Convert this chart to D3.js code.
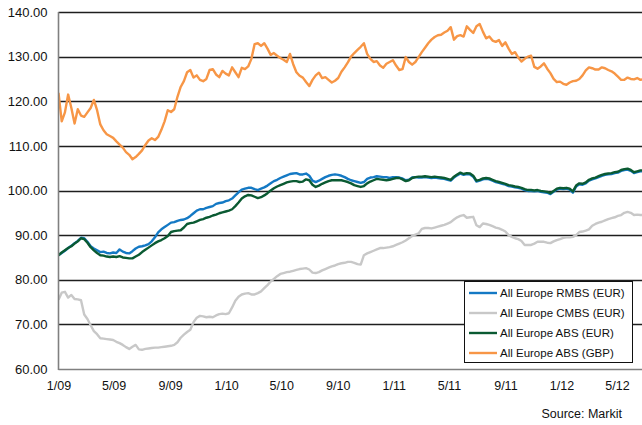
<!DOCTYPE html>
<html>
<head>
<meta charset="utf-8">
<script src="https://cdn.jsdelivr.net/npm/d3@7"></script>
<style>
  html, body { margin: 0; padding: 0; background: #fff; }
  svg { display: block; font-family: "Liberation Sans", Arial, sans-serif; }
</style>
</head>
<body>
<svg id="chart" width="642" height="425"></svg>
<script>
// ---------------- DATA ----------------
// Weekly observations starting 1 Jan 2009
const startDate = new Date(2009, 0, 1);
const stepDays = 7;

const seriesNames = ["All Europe RMBS (EUR)", "All Europe CMBS (EUR)", "All Europe ABS (EUR)", "All Europe ABS (GBP)"];
const seriesColors = ["#1479c4", "#c8c8c8", "#0a5a32", "#f79646"];

const rmbsEUR = [
85.5,86,86.5,87.1,87.6,88.2,88.7,89.4,89.3,88.5,
87.5,87,86.6,86.2,86.3,86,85.9,86.1,86,86.8,
86.3,86,85.9,86.4,87,87.4,87.5,87.7,88,88.6,
89.5,90.6,91.3,91.8,92.3,92.8,92.9,93.2,93.4,93.5,
93.8,94.3,94.9,95.5,95.8,95.8,96.1,96.3,96.5,97,
97.2,97.3,97.6,97.8,98.2,98.9,99.6,100.2,100.4,100.6,
100.6,100.3,100.1,100.4,100.7,101.1,101.6,102.1,102.4,102.8,
103.1,103.4,103.7,103.8,103.9,103.6,103.6,103.8,103.3,102.2,
101.9,102.2,102.6,103,103.3,103.5,103.6,103.5,103.3,103,
102.6,102.3,102.1,101.9,101.7,101.9,102.6,102.9,103,103.2,
103.1,103,103,102.8,103,103,102.9,102.7,102.3,102.4,
102.9,103,102.9,102.9,103,102.9,102.8,102.9,102.8,102.7,
102.6,102.4,102.2,102.9,103.4,103.8,103.5,103.7,103.6,103.1,
102,102.2,102.5,102.6,102.5,102.2,101.9,101.7,101.5,101.3,
101,100.9,100.7,100.6,100.4,100.1,99.9,99.9,99.8,99.9,
99.7,99.6,99.5,99.2,99.7,100.2,100.4,100.3,100.4,100.2,
99.5,100.9,101.4,101.3,101.6,102.2,102.5,102.7,103,103.3,
103.5,103.6,103.7,103.9,104,104.4,104.6,104.7,104.4,103.9,
104.1,104.3,104.3
];

const cmbsEUR = [
75.5,77.1,77.3,76,76.6,75.7,75.6,75.4,72.2,71.2,
69.8,68.5,67.8,66.9,66.8,66.7,66.6,66.5,66.1,65.8,
65.4,64.9,64.5,65,65.4,64.4,64.3,64.5,64.6,64.7,
64.8,64.8,64.9,65,65.1,65.2,65.4,66,67,67.7,
68.3,68.8,70.5,71.5,71.9,71.8,71.6,71.7,71.6,72,
72.3,72.4,72.3,72.5,73.8,75.3,76.2,76.7,76.9,77,
76.7,76.7,77,77.4,78.1,78.8,79.6,80.2,80.8,81.3,
81.5,81.7,81.8,82,82.2,82.4,82.5,82.6,82.3,81.6,
81.5,81.7,82.1,82.4,82.7,83,83.2,83.5,83.7,83.8,
84,84,83.8,83.5,83.4,85.5,85.9,86.2,86.5,86.8,
87.1,87.1,87.2,87.3,87.5,87.8,88.1,88.4,88.8,89.3,
89.8,90.1,90.4,91.4,91.6,91.6,91.5,91.7,91.9,92.1,
92.3,92.6,92.9,93.5,94,94.3,94.5,93.9,94,94.1,
92.2,91.8,92.6,92.5,92.3,92,91.7,91.5,91.2,90.8,
90,89.6,89.3,89.1,88.7,87.8,87.8,87.8,88.1,88.5,
88.5,88.5,88.3,88.2,88.6,88.9,89.1,89.4,89.5,89.5,
89.6,90,90.7,90.8,91,91.3,92.1,92.5,92.8,93,
93.3,93.6,93.8,94,94.3,94.5,95,95.2,95,94.5,
94.6,94.5,94.5
];

const absEUR = [
85.5,86.1,86.6,87.1,87.5,88.1,88.6,89.3,89.1,88.3,
87.3,86.6,86,85.5,85.4,85.2,85.1,85.2,85.1,85.3,
85,84.9,84.8,84.8,85.2,85.6,86.2,86.7,87.2,87.7,
88.2,88.6,88.9,89.3,89.8,90.7,90.9,91,91.1,91.7,
92.5,92.7,92.8,93.1,93.4,93.6,93.9,94.1,94.4,94.6,
94.9,95.1,95.3,95.5,95.8,96.5,97.3,98.2,98.7,99,
98.9,98.6,98.3,98.5,98.9,99.4,100,100.5,100.9,101.2,
101.5,101.8,102,102.1,102.1,101.9,102,102.5,102.3,101.3,
100.8,101.1,101.5,101.8,102.1,102.3,102.3,102.3,102.3,102.1,
101.9,101.6,101.2,101,100.8,101,101.6,102,102.3,102.6,
102.5,102.4,102.3,102.4,102.6,102.8,102.8,102.5,102.1,102.3,
102.8,103,103.1,103.1,103.2,103.1,103,103.1,103,102.9,
102.8,102.6,102.4,103.1,103.6,104,103.7,103.9,103.8,103.3,
102.2,102.4,102.7,102.8,102.7,102.4,102.1,101.9,101.7,101.5,
101.2,101.1,100.9,100.8,100.6,100.3,100.1,100.1,100,100.1,
99.9,99.8,99.7,99.4,99.9,100.4,100.6,100.5,100.6,100.4,
99.8,101.1,101.6,101.5,101.8,102.4,102.7,102.9,103.2,103.5,
103.7,103.8,103.9,104.1,104.2,104.6,104.8,104.9,104.6,104.1,
104.3,104.5,104.5
];

const absGBP = [
121.9,115.5,117.5,121.5,118.5,115,118.2,116.8,116.5,117.5,
118.5,120.3,118,114.8,113.5,112.6,112.2,111.8,111,110.3,
109.6,108.6,108,107,107.5,108.2,109,110.2,111.2,111.7,
111.3,112,113.6,115.5,118,117.6,118.2,121,123.2,124.5,
126.5,127,125.3,125.8,124.8,124.5,125,127,127.2,126,
125.4,126.8,126.2,125.8,127.6,126.5,125.4,127.5,127.2,127.8,
129.5,132.8,133,132.4,133,131.8,130.4,130.8,130.2,129.7,
129.3,128.8,130.6,128.3,126.5,125.7,125.3,124.3,123.4,124.8,
125.8,126.4,125.2,125.4,124.8,124.2,124.6,125.2,126.6,127.6,
128.7,130,130.8,131.5,132.2,133,130.6,129.5,128.8,129,
128,127.5,128.4,128.8,129.2,128,127,127.2,129.9,128.8,
128.2,128.8,129.9,131,132,133,133.8,134.4,134.8,134.9,
135.4,135.8,136.6,133.8,134.6,134.8,134.5,136.8,136,135.3,
136.8,137.3,135.6,134.1,134.5,133.6,133.3,133.7,132.4,133.2,
131.8,130.6,131,129.8,128.9,129.5,130,130.2,127.7,127.3,
127.8,128.5,127.3,126.3,125,124.3,124.4,123.9,123.7,124.2,
124.5,124.6,125,125.8,126.9,127.6,127.4,127.1,127.1,127.6,
127.4,127,126.7,126.2,125.5,124.8,124.8,125.3,125,124.9,
125.2,124.8,125
];

const yTicks = [60, 70, 80, 90, 100, 110, 120, 130, 140];
const xTickLabels = ["1/09","5/09","9/09","1/10","5/10","9/10","1/11","5/11","9/11","1/12","5/12"];
const sourceText = "Source: Markit";

// ---------------- CHART ----------------
const svg = d3.select("#chart");
const W = 642, H = 425;
const plotLeft = 58.5, plotRight = 680, plotTop = 12, plotBottom = 369;

const parseTick = d3.timeParse("%m/%y");
const tickDates = xTickLabels.map(parseTick);

const x = d3.scaleTime()
  .domain([tickDates[0], tickDates[tickDates.length - 1]])
  .range([58.5, 617]);
const y = d3.scaleLinear().domain([60, 140]).range([plotBottom, plotTop]);

const allSeries = [rmbsEUR, cmbsEUR, absEUR, absGBP];
const dateOf = i => d3.timeDay.offset(startDate, i * stepDays);

svg.append("defs").append("clipPath").attr("id", "clip")
  .append("rect").attr("x", plotLeft).attr("y", 0)
  .attr("width", plotRight - plotLeft).attr("height", plotBottom + 1);

// gridlines
svg.append("g").selectAll("line")
  .data(yTicks.filter(d => d > 60))
  .join("line")
  .attr("x1", plotLeft).attr("x2", W)
  .attr("y1", d => Math.round(y(d)) + 0.5).attr("y2", d => Math.round(y(d)) + 0.5)
  .attr("stroke", "#1e1e1e").attr("stroke-width", 1.3);

// series lines
const line = d3.line()
  .x((d, i) => x(dateOf(i)))
  .y(d => y(d));

const gLines = svg.append("g").attr("clip-path", "url(#clip)");
allSeries.forEach((s, k) => {
  gLines.append("path")
    .datum(s)
    .attr("fill", "none")
    .attr("stroke", seriesColors[k])
    .attr("stroke-width", 2.4)
    .attr("stroke-linejoin", "round")
    .attr("d", line);
});

// axes
svg.append("line")
  .attr("x1", plotLeft).attr("x2", W)
  .attr("y1", Math.round(y(60)) + 0.5).attr("y2", Math.round(y(60)) + 0.5)
  .attr("stroke", "#808080").attr("stroke-width", 1.6);
svg.append("line")
  .attr("x1", plotLeft).attr("x2", plotLeft)
  .attr("y1", plotTop).attr("y2", Math.round(y(60)) + 1)
  .attr("stroke", "#808080").attr("stroke-width", 1.6);

const yAxis = d3.axisLeft(y).tickValues(yTicks).tickFormat(d3.format(".2f")).tickSize(0).tickPadding(11);
const gy = svg.append("g").attr("transform", `translate(${plotLeft},0)`).call(yAxis);
gy.select(".domain").remove();
gy.selectAll("text").attr("font-size", 13).attr("fill", "#111")
  .attr("font-family", "'Liberation Sans', Arial, sans-serif");

const xAxis = d3.axisBottom(x).tickValues(tickDates).tickFormat(d3.timeFormat("%-m/%y")).tickSize(0).tickPadding(12);
const gx = svg.append("g").attr("transform", `translate(0,${plotBottom})`).call(xAxis);
gx.select(".domain").remove();
gx.selectAll("text").attr("font-size", 12.5).attr("fill", "#111")
  .attr("font-family", "'Liberation Sans', Arial, sans-serif");

// legend
const lg = svg.append("g");
lg.append("rect").attr("x", 464.5).attr("y", 281.5).attr("width", 168).attr("height", 81)
  .attr("fill", "#fff").attr("stroke", "#111").attr("stroke-width", 1);
seriesNames.forEach((name, k) => {
  const cy = 293 + k * 20;
  lg.append("line").attr("x1", 469).attr("x2", 497).attr("y1", cy).attr("y2", cy)
    .attr("stroke", seriesColors[k]).attr("stroke-width", 2.4);
  lg.append("text").attr("x", 500).attr("y", cy).attr("dy", "0.35em")
    .attr("font-size", 11.5).attr("fill", "#111").text(name);
});

// source
svg.append("text").attr("x", 622).attr("y", 418).attr("text-anchor", "end")
  .attr("font-size", 12.5).attr("fill", "#111").text(sourceText);
</script>
</body>
</html>
